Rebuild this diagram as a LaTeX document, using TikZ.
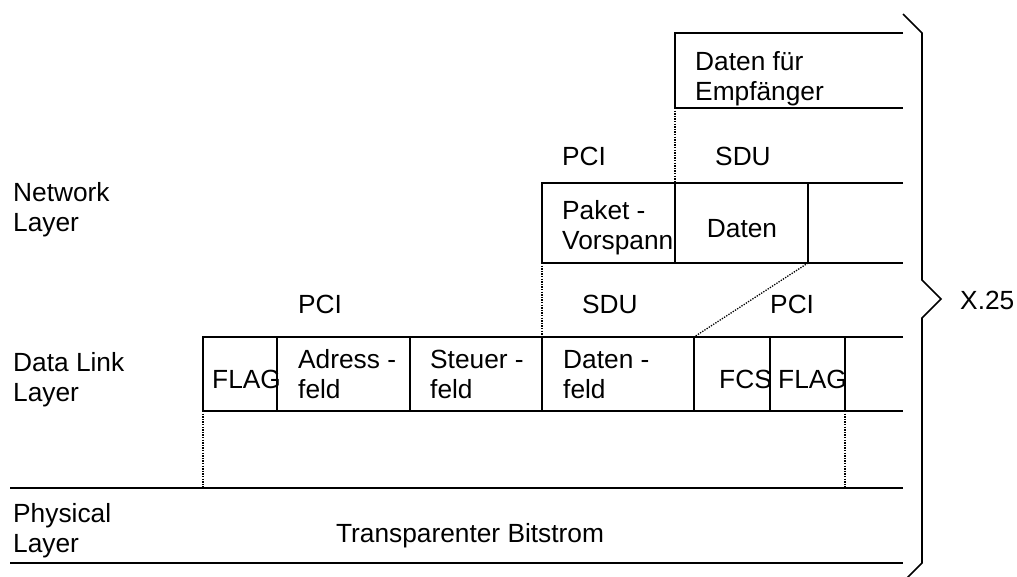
\documentclass[tikz,border=0pt]{standalone}
\usepackage{fontspec}
\setmainfont{Liberation Sans}
\begin{document}
\begin{tikzpicture}[x=1pt,y=-1pt,
  txt/.style={inner sep=0pt,font=\fontsize{26.3}{30}\selectfont,align=left,anchor=base west},
  ctxt/.style={inner sep=0pt,font=\fontsize{26.3}{30}\selectfont,anchor=base},
  solidline/.style={line width=1.6pt},
  dotline/.style={line width=1.3pt,dash pattern=on 1.3pt off 1.3pt}]
\useasboundingbox (0,0) rectangle (1017,576);
% coordinates
\coordinate (tA) at (675,33);  \coordinate (tB) at (903,33);
\coordinate (tC) at (675,108); \coordinate (tD) at (903,108);
\coordinate (nA) at (542,183); \coordinate (nB) at (903,183);
\coordinate (nC) at (542,263); \coordinate (nD) at (903,263);
\coordinate (n1t) at (675,183); \coordinate (n1b) at (675,263);
\coordinate (n2t) at (808,183); \coordinate (n2b) at (808,263);
\coordinate (dA) at (203,337); \coordinate (dB) at (903,337);
\coordinate (dC) at (203,411); \coordinate (dD) at (903,411);
\coordinate (pA) at (10,488); \coordinate (pB) at (903,488);
\coordinate (pC) at (10,563); \coordinate (pD) at (903,563);
\foreach \x/\n in {277/1,410/2,542/3,694/4,770/5,845/6}{
  \coordinate (d\n t) at (\x,337); \coordinate (d\n b) at (\x,411);}
\coordinate (pl) at (203,488); \coordinate (pr) at (845,488);
% solid lines
\draw[solidline] (tB) -- (tA) -- (tC) -- (tD);
\draw[solidline] (nB) -- (nA) -- (nC) -- (nD);
\draw[solidline] (n1t) -- (n1b) (n2t) -- (n2b);
\draw[solidline] (dB) -- (dA) -- (dC) -- (dD);
\foreach \n in {1,...,6}{\draw[solidline] (d\n t) -- (d\n b);}
\draw[solidline] (pA) -- (pB) (pC) -- (pD);
% dotted
\draw[dotline] (tC) -- (n1t);
\draw[dotline] (nC) -- (d3t);
\draw[dotline] (n2b) -- (d4t);
\draw[dotline] (dC) -- (pl);
\draw[dotline] (d6b) -- (pr);
% brace
\coordinate (b0) at (903,14); \coordinate (b1) at (922,33);
\coordinate (b2) at (922,280); \coordinate (btip) at (941,299);
\coordinate (b3) at (922,318); \coordinate (b4) at (922,563);
\coordinate (b5) at (907,578);
\draw[solidline] (b0) -- (b1) -- (b2) -- (btip) -- (b3) -- (b4) -- (b5);
% texts (multi-line nodes: base = baseline of last line)
\node[txt] (empf) at (695,100) {Daten für\\Empfänger};
\node[txt] (npci) at (562,165) {PCI};
\node[txt] (nsdu) at (715,165) {SDU};
\node[txt] (netl) at (13,231) {Network\\Layer};
\node[txt] (paket) at (562,249) {Paket -\\Vorspann};
\node[ctxt] (daten) at (742,237) {Daten};
\node[txt] (dpci) at (298,313) {PCI};
\node[txt] (dsdu) at (582,313) {SDU};
\node[txt] (dpci2) at (770,313) {PCI};
\node[txt] (x25) at (960,309) {X.25};
\node[txt] (dll) at (13,401) {Data Link\\Layer};
\node[txt] (flag1) at (212,388) {FLAG};
\node[txt] (adr) at (298,398) {Adress -\\feld};
\node[txt] (steu) at (430,398) {Steuer -\\feld};
\node[txt] (datf) at (563,398) {Daten -\\feld};
\node[txt] (fcs) at (719,388) {FCS};
\node[txt] (flag2) at (778,388) {FLAG};
\node[txt] (phy) at (13,552) {Physical\\Layer};
\node[ctxt] (bits) at (470,542) {Transparenter Bitstrom};
\end{tikzpicture}
\end{document}
